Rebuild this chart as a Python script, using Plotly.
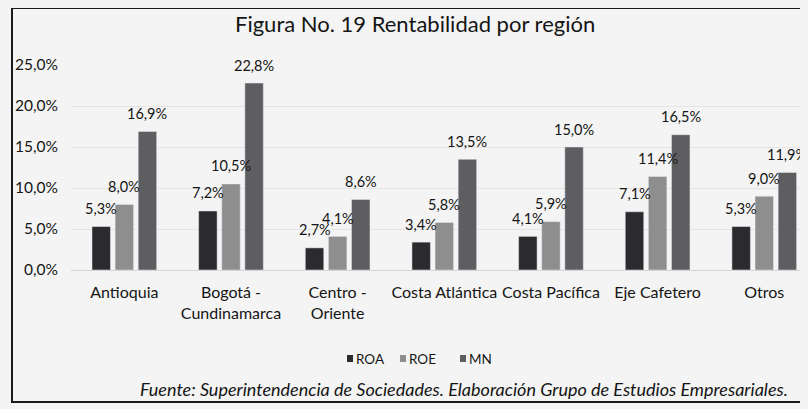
import plotly.graph_objects as go

categories = ["Antioquia", "Bogotá -<br>Cundinamarca", "Centro -<br>Oriente",
              "Costa Atlántica", "Costa Pacífica", "Eje Cafetero", "Otros"]
roa = [5.3, 7.2, 2.7, 3.4, 4.1, 7.1, 5.3]
roe = [8.0, 10.5, 4.1, 5.8, 5.9, 11.4, 9.0]
mn = [16.9, 22.8, 8.6, 13.5, 15.0, 16.5, 11.9]
series = [("ROA", roa, "#2b2b2d"), ("ROE", roe, "#8e8e8e"), ("MN", mn, "#5e5e60")]

FONT = "Lato, 'Noto Sans', sans-serif"
BG = "#f4f4f4"

# page geometry (figure sits at 8px body margin)
OX, OY = 8, 8
W, H = 800, 401
L, R, T, B = 63, 0, 57, 139
PX0, PX1 = OX + L, OX + W - R
PY0, PY1 = OY + T, OY + H - B
X_RANGE = [-0.5, 6.41]
BARGAP = 0.35


def px(x):
    return (x - PX0) / (PX1 - PX0)


def py(y):
    return (PY1 - y) / (PY1 - PY0)


def fmt(v):
    return f"{v:.1f}%".replace(".", ",")


fig = go.Figure()
for name, vals, col in series:
    fig.add_trace(go.Bar(
        name=name, x=categories, y=vals, marker_color=col,
        cliponaxis=False, showlegend=False,
    ))

shapes = [dict(type="rect", xref="paper", yref="paper",
               x0=px(12), x1=px(840), y0=py(402), y1=py(8),
               line=dict(color="#1a1a1a", width=2))]
annotations = [
    dict(text="Figura No. 19 Rentabilidad por región", xref="paper", yref="paper",
         x=px(415), y=py(23), xanchor="center", yanchor="middle", showarrow=False,
         font=dict(size=22, family=FONT, color="#151515")),
    dict(text="<i>Fuente: Superintendencia de Sociedades. Elaboración Grupo de Estudios Empresariales.</i>",
         xref="paper", yref="paper", x=px(790), y=py(389), xanchor="right", yanchor="middle",
         showarrow=False, font=dict(size=18, family=FONT, color="#151515")),
]

# data labels, placed above each bar through the data axes
cat_px = (PX1 - PX0) / (X_RANGE[1] - X_RANGE[0])
slot = cat_px * (1 - BARGAP) / len(series)
for si, (name, vals, col) in enumerate(series):
    shift = (si - (len(series) - 1) / 2) * slot
    for c, v in zip(categories, vals):
        annotations.append(dict(text=fmt(v), x=c, y=v, xref="x", yref="y",
                                xshift=shift, yshift=18, xanchor="center", yanchor="middle",
                                showarrow=False,
                                font=dict(size=14.5, family=FONT, color="#151515")))

# legend (manual, compact like the original)
leg_x = [347, 400, 460]
for (name, vals, col), lx in zip(series, leg_x):
    shapes.append(dict(type="rect", xref="paper", yref="paper",
                       x0=px(lx), x1=px(lx + 6), y0=py(362), y1=py(355),
                       fillcolor=col, line=dict(width=0)))
    annotations.append(dict(text=name, xref="paper", yref="paper",
                            x=px(lx + 7), y=py(358.5), xanchor="left", yanchor="middle",
                            showarrow=False, font=dict(size=13.5, family=FONT, color="#151515")))

fig.update_layout(
    width=W, height=H,
    margin=dict(l=L, r=R, t=T, b=B),
    paper_bgcolor=BG, plot_bgcolor=BG,
    separators=",.",
    barmode="group", bargap=BARGAP, bargroupgap=0.2,
    font=dict(family=FONT, color="#151515", size=14),
    showlegend=False,
    xaxis=dict(range=X_RANGE, tickfont=dict(size=16), showline=True,
               linecolor="#d4d4d4", ticks="", showgrid=False, ticklabelstandoff=8),
    yaxis=dict(range=[0, 25], dtick=5, tickformat=".1f", ticksuffix="%",
               showgrid=True, gridcolor="#e4e4e4", zeroline=False,
               tickfont=dict(size=15.5), ticklabelstandoff=12),
    shapes=shapes,
    annotations=annotations,
)

fig.write_html("out.html",
               post_script="document.body.style.background='%s';" % BG)
